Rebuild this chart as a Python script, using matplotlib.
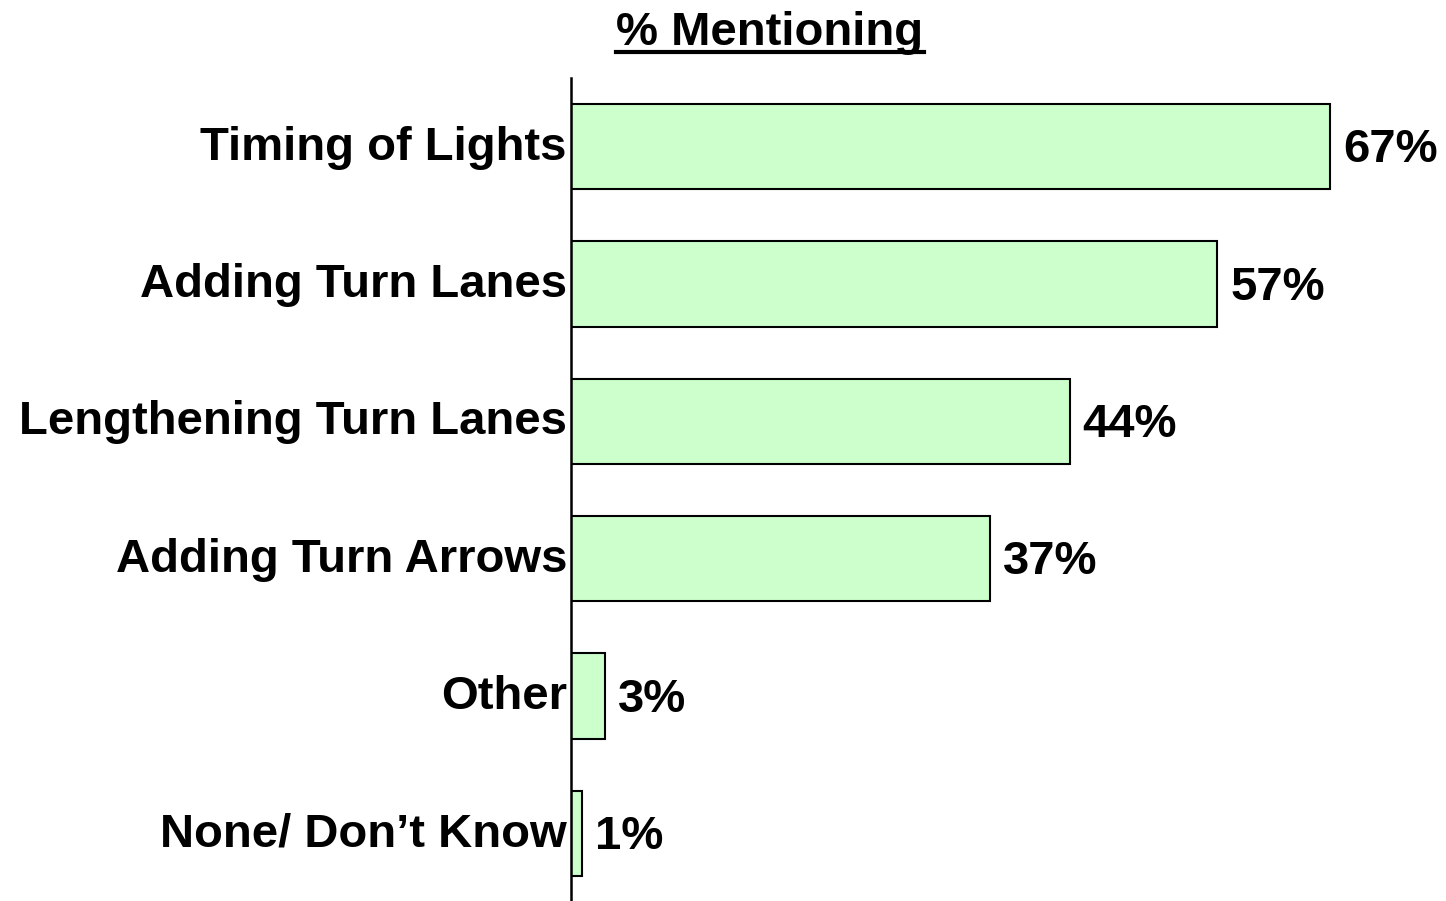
import matplotlib
matplotlib.use('Agg')
import matplotlib.pyplot as plt
from matplotlib.lines import Line2D

plt.rcParams['font.family'] = ['Liberation Sans', 'DejaVu Sans']

categories = ['Timing of Lights', 'Adding Turn Lanes', 'Lengthening Turn Lanes',
              'Adding Turn Arrows', 'Other', 'None/ Don\u2019t Know']
values = [67, 57, 44, 37, 3, 1]
title = '% Mentioning'

W, H = 1446, 901
fig = plt.figure(figsize=(W / 100, H / 100), dpi=100)
ax = fig.add_axes([571 / W, -1 / H, (W - 571) / W, 824 / H])

pos = list(range(len(categories)))
ax.barh(pos, values, height=0.62, color='#CCFFCC', edgecolor='black', linewidth=1.5)
ax.set_ylim(len(categories) - 0.5, -0.5)
ax.set_xlim(0, 77.2)

ax.set_yticks([])
ax.set_xticks([])
for s in ['top', 'right', 'bottom']:
    ax.spines[s].set_visible(False)
ax.spines['left'].set_linewidth(1.8)

# px -> points at dpi 100
pt = 0.72
for p, cat in zip(pos, categories):
    ax.annotate(cat, (0, p), xytext=(-4 * pt, -13 * pt), textcoords='offset points',
                ha='right', va='baseline', fontsize=34, fontweight='bold')

for p, v in zip(pos, values):
    ax.annotate(f'{v}%', (v, p), xytext=(13 * pt, -15.5 * pt), textcoords='offset points',
                ha='left', va='baseline', fontsize=34, fontweight='bold')

t = fig.text(770 / W, 1 - 45 / H, title, ha='center', va='baseline',
             fontsize=34, fontweight='bold')
fig.canvas.draw()
bb = t.get_window_extent()
uy = 1 - 52 / H
fig.add_artist(Line2D([bb.x0 / W, bb.x1 / W], [uy, uy], color='black',
                      linewidth=3, transform=fig.transFigure))

fig.savefig('out.png', dpi=100)
